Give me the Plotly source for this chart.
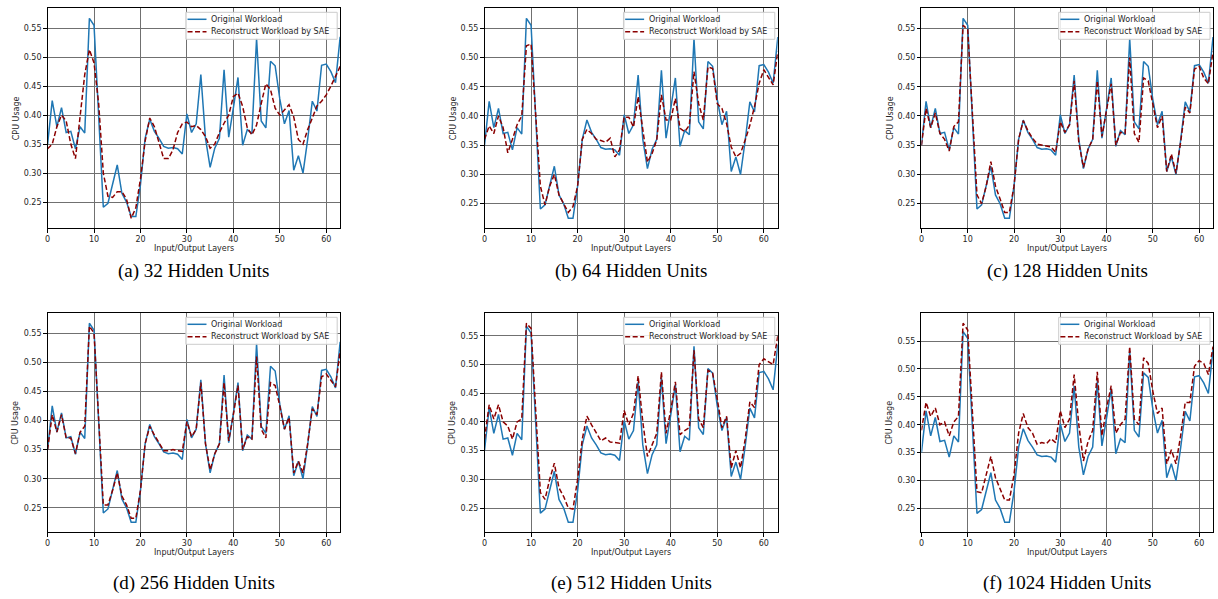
import plotly.graph_objects as go
from plotly.subplots import make_subplots

layers = list(range(64))

original = [0.350,0.425,0.380,0.413,0.370,0.372,0.342,0.380,0.369,0.567,
            0.555,0.400,0.241,0.248,0.280,0.314,0.265,0.250,0.225,0.225,
            0.280,0.360,0.393,0.372,0.360,0.346,0.343,0.344,0.342,0.333,
            0.402,0.370,0.385,0.470,0.360,0.310,0.343,0.360,0.478,0.362,
            0.412,0.465,0.348,0.375,0.368,0.532,0.390,0.378,0.493,0.485,
            0.428,0.385,0.408,0.305,0.330,0.300,0.358,0.424,0.407,0.486,
            0.488,0.475,0.456,0.535]

rec_32 = [0.342,0.350,0.380,0.400,0.390,0.350,0.325,0.400,0.470,0.513,
          0.490,0.420,0.300,0.260,0.258,0.268,0.268,0.255,0.222,0.240,
          0.290,0.355,0.395,0.380,0.350,0.325,0.325,0.340,0.370,0.385,
          0.388,0.380,0.382,0.375,0.363,0.343,0.350,0.370,0.386,0.400,
          0.432,0.438,0.415,0.378,0.366,0.383,0.420,0.454,0.444,0.412,
          0.400,0.410,0.418,0.397,0.358,0.350,0.375,0.395,0.416,0.424,
          0.435,0.450,0.467,0.484]

rec_64 = [0.360,0.383,0.370,0.400,0.380,0.337,0.360,0.385,0.400,0.520,
          0.523,0.400,0.280,0.248,0.280,0.300,0.265,0.250,0.235,0.245,
          0.280,0.360,0.377,0.370,0.360,0.358,0.355,0.362,0.330,0.342,
          0.398,0.398,0.381,0.433,0.381,0.321,0.336,0.359,0.436,0.393,
          0.393,0.430,0.379,0.373,0.384,0.476,0.421,0.393,0.484,0.481,
          0.421,0.413,0.387,0.347,0.330,0.336,0.359,0.384,0.416,0.456,
          0.479,0.467,0.453,0.510]

rec_128 = [0.350,0.413,0.380,0.405,0.370,0.360,0.340,0.382,0.390,0.555,
           0.548,0.400,0.265,0.250,0.280,0.322,0.280,0.258,0.235,0.235,
           0.280,0.360,0.392,0.375,0.362,0.352,0.350,0.349,0.347,0.338,
           0.390,0.372,0.385,0.460,0.355,0.312,0.343,0.360,0.460,0.365,
           0.410,0.455,0.350,0.372,0.370,0.500,0.370,0.355,0.465,0.460,
           0.420,0.380,0.400,0.305,0.335,0.302,0.355,0.415,0.405,0.480,
           0.485,0.465,0.455,0.510]

rec_256 = [0.350,0.410,0.380,0.410,0.370,0.370,0.343,0.380,0.390,0.562,
           0.550,0.400,0.255,0.255,0.280,0.310,0.270,0.255,0.232,0.232,
           0.280,0.360,0.390,0.375,0.362,0.348,0.348,0.350,0.348,0.347,
           0.398,0.372,0.385,0.465,0.360,0.315,0.343,0.360,0.465,0.365,
           0.410,0.460,0.350,0.372,0.368,0.510,0.385,0.370,0.465,0.460,
           0.425,0.385,0.405,0.310,0.330,0.310,0.360,0.420,0.410,0.475,
           0.480,0.470,0.458,0.520]

rec_512 = [0.370,0.430,0.405,0.430,0.400,0.393,0.370,0.400,0.405,0.572,
           0.563,0.420,0.277,0.265,0.300,0.328,0.285,0.270,0.250,0.248,
           0.300,0.370,0.410,0.395,0.380,0.367,0.372,0.365,0.364,0.363,
           0.420,0.395,0.415,0.480,0.400,0.340,0.360,0.380,0.487,0.380,
           0.420,0.470,0.378,0.385,0.390,0.525,0.405,0.390,0.490,0.485,
           0.440,0.390,0.410,0.320,0.350,0.320,0.370,0.435,0.425,0.500,
           0.510,0.505,0.500,0.550]

rec_1024 = [0.390,0.440,0.415,0.430,0.400,0.405,0.380,0.405,0.415,0.582,
            0.570,0.430,0.280,0.278,0.310,0.343,0.305,0.285,0.265,0.265,
            0.310,0.385,0.420,0.395,0.385,0.365,0.368,0.366,0.375,0.368,
            0.425,0.395,0.410,0.490,0.400,0.335,0.370,0.390,0.495,0.380,
            0.430,0.470,0.385,0.400,0.410,0.540,0.410,0.400,0.520,0.510,
            0.460,0.420,0.430,0.330,0.355,0.330,0.380,0.440,0.440,0.505,
            0.515,0.510,0.490,0.540]

captions = ["(a) 32 Hidden Units", "(b) 64 Hidden Units", "(c) 128 Hidden Units",
            "(d) 256 Hidden Units", "(e) 512 Hidden Units", "(f) 1024 Hidden Units"]
series_names = ["Original Workload", "Reconstruct Workload by SAE"]
reconstructions = [rec_32, rec_64, rec_128, rec_256, rec_512, rec_1024]
x_ticks = [0, 10, 20, 30, 40, 50, 60]
y_ticks = [0.25, 0.30, 0.35, 0.40, 0.45, 0.50, 0.55]

W, H = 1218, 599
col_px = [(44.7, 338.0), (482.7, 776.7), (920.7, 1213.0)]
row_px = [(8.3, 228.3), (313.3, 532.3)]
caption_y = [271, 583]

BLUE = "#1f77b4"
RED = "#8b0000"
DASH = "5px,2.5px"
font_main = "DejaVu Sans"
tick_color = "#262626"
FS = 8

fig = make_subplots(rows=2, cols=3)

annotations = []
shapes = []
for i, rec in enumerate(reconstructions):
    r, c = i // 3, i % 3
    idx = "" if i == 0 else str(i + 1)
    fig.add_trace(go.Scatter(x=layers, y=original, mode="lines", name=series_names[0],
                             line=dict(color=BLUE, width=1.5), showlegend=False),
                  row=r + 1, col=c + 1)
    fig.add_trace(go.Scatter(x=layers, y=rec, mode="lines", name=series_names[1],
                             line=dict(color=RED, width=1.5, dash=DASH), showlegend=False),
                  row=r + 1, col=c + 1)
    lo = min(min(original), min(rec))
    hi = max(max(original), max(rec))
    pad = (hi - lo) * 0.05
    x0, x1 = col_px[c]
    t, b = row_px[r]
    pw, ph = x1 - x0, b - t
    common = dict(showline=True, mirror=True, linecolor="black", linewidth=1,
                  showgrid=True, gridcolor="#707070", gridwidth=1, zeroline=False,
                  ticks="outside", ticklen=3.5, tickcolor="black",
                  tickfont=dict(family=font_main, size=FS, color=tick_color))
    fig.update_xaxes(domain=[x0 / W, x1 / W], range=[0, 63], tickvals=x_ticks,
                     row=r + 1, col=c + 1, **common)
    fig.update_yaxes(domain=[1 - b / H, 1 - t / H], range=[lo - pad, hi + pad],
                     tickvals=y_ticks, tickformat=".2f", row=r + 1, col=c + 1, **common)

    xr = "x" + idx + " domain"
    yr = "y" + idx + " domain"

    def fx(px_from_right):
        return 1 - px_from_right / pw

    def fy(px_from_top):
        return 1 - px_from_top / ph

    # legend box (upper right)
    shapes.append(dict(type="rect", xref=xr, yref=yr, x0=fx(154.7), x1=fx(3), y0=fy(31), y1=fy(4),
                       line=dict(color="#cccccc", width=1), fillcolor="rgba(255,255,255,0.85)",
                       layer="above"))
    row_offsets = [11.0, 23.4]
    styles = [dict(color=BLUE, width=1.5), dict(color=RED, width=1.5, dash=DASH)]
    for k in range(2):
        shapes.append(dict(type="line", xref=xr, yref=yr, x0=fx(153), x1=fx(134),
                           y0=fy(row_offsets[k]), y1=fy(row_offsets[k]), line=styles[k],
                           layer="above"))
        annotations.append(dict(text=series_names[k], xref=xr, yref=yr, x=fx(130.5),
                                y=fy(row_offsets[k]), xanchor="left", yanchor="middle",
                                showarrow=False, borderpad=0,
                                font=dict(family=font_main, size=FS, color=tick_color)))

    annotations.append(dict(text="Input/Output Layers", xref=xr, yref=yr, x=0.5, y=-19.7 / ph,
                            xanchor="center", yanchor="middle", showarrow=False,
                            font=dict(family=font_main, size=FS, color=tick_color)))
    annotations.append(dict(text="CPU Usage", xref=xr, yref=yr, x=-31.7 / pw, y=0.5,
                            xanchor="center", yanchor="middle", showarrow=False, textangle=-90,
                            font=dict(family=font_main, size=FS, color=tick_color)))
    annotations.append(dict(text=captions[i], xref=xr, yref="paper", x=0.5, y=1 - caption_y[r] / H,
                            xanchor="center", yanchor="middle", showarrow=False,
                            font=dict(family="Liberation Serif", size=19, color="black")))

fig.update_layout(width=W, height=H, margin=dict(l=0, r=0, t=0, b=0),
                  paper_bgcolor="white", plot_bgcolor="white", showlegend=False,
                  annotations=annotations, shapes=shapes)

fig.write_html("out.html")
